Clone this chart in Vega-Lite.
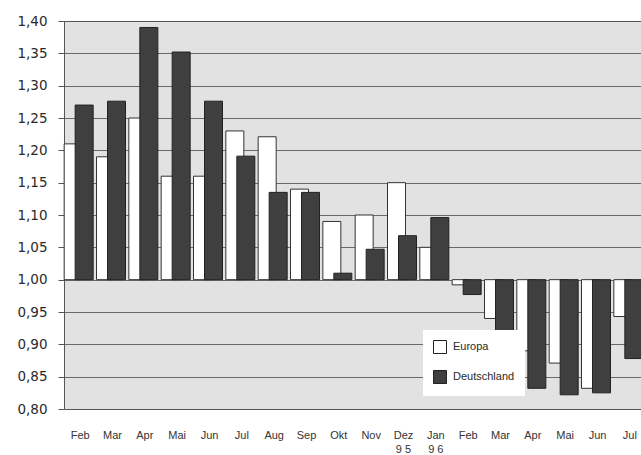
{
  "$schema": "https://vega.github.io/schema/vega-lite/v6.json",
  "autosize": "none",
  "width": 582,
  "height": 388,
  "padding": {"left": 64, "top": 21, "right": 0, "bottom": 46},
  "background": "white",
  "config": {
    "font": "Liberation Sans",
    "view": {"fill": "#e2e2e2", "stroke": "#555555", "strokeWidth": 1}
  },
  "data": {
    "values": [
      {"month": "Feb 95", "series": "Europa", "value": 1.21},
      {"month": "Feb 95", "series": "Deutschland", "value": 1.27},
      {"month": "Mar 95", "series": "Europa", "value": 1.19},
      {"month": "Mar 95", "series": "Deutschland", "value": 1.276},
      {"month": "Apr 95", "series": "Europa", "value": 1.25},
      {"month": "Apr 95", "series": "Deutschland", "value": 1.39},
      {"month": "Mai 95", "series": "Europa", "value": 1.16},
      {"month": "Mai 95", "series": "Deutschland", "value": 1.352},
      {"month": "Jun 95", "series": "Europa", "value": 1.16},
      {"month": "Jun 95", "series": "Deutschland", "value": 1.276},
      {"month": "Jul 95", "series": "Europa", "value": 1.23},
      {"month": "Jul 95", "series": "Deutschland", "value": 1.191},
      {"month": "Aug 95", "series": "Europa", "value": 1.221},
      {"month": "Aug 95", "series": "Deutschland", "value": 1.135},
      {"month": "Sep 95", "series": "Europa", "value": 1.14},
      {"month": "Sep 95", "series": "Deutschland", "value": 1.135},
      {"month": "Okt 95", "series": "Europa", "value": 1.09},
      {"month": "Okt 95", "series": "Deutschland", "value": 1.01},
      {"month": "Nov 95", "series": "Europa", "value": 1.1},
      {"month": "Nov 95", "series": "Deutschland", "value": 1.047},
      {"month": "Dez 95", "series": "Europa", "value": 1.15},
      {"month": "Dez 95", "series": "Deutschland", "value": 1.068},
      {"month": "Jan 96", "series": "Europa", "value": 1.05},
      {"month": "Jan 96", "series": "Deutschland", "value": 1.096},
      {"month": "Feb 96", "series": "Europa", "value": 0.992},
      {"month": "Feb 96", "series": "Deutschland", "value": 0.977},
      {"month": "Mar 96", "series": "Europa", "value": 0.94},
      {"month": "Mar 96", "series": "Deutschland", "value": 0.92},
      {"month": "Apr 96", "series": "Europa", "value": 0.89},
      {"month": "Apr 96", "series": "Deutschland", "value": 0.832},
      {"month": "Mai 96", "series": "Europa", "value": 0.871},
      {"month": "Mai 96", "series": "Deutschland", "value": 0.822},
      {"month": "Jun 96", "series": "Europa", "value": 0.832},
      {"month": "Jun 96", "series": "Deutschland", "value": 0.825},
      {"month": "Jul 96", "series": "Europa", "value": 0.943},
      {"month": "Jul 96", "series": "Deutschland", "value": 0.878}
    ]
  },
  "encoding": {
    "x": {
      "field": "month",
      "type": "ordinal",
      "sort": null,
      "scale": {"paddingInner": 0, "paddingOuter": 0},
      "axis": {
        "title": null,
        "domain": false,
        "ticks": false,
        "grid": false,
        "labelAngle": 0,
        "labelPadding": 20,
        "labelFontSize": 11,
        "labelColor": "#333333",
        "labelLineHeight": 14,
        "labelExpr": "datum.value == 'Dez 95' ? ['Dez', '9 5'] : datum.value == 'Jan 96' ? ['Jan', '9 6'] : slice(datum.value, 0, 3)"
      }
    },
    "y": {
      "field": "value",
      "type": "quantitative",
      "scale": {"domain": [0.8, 1.4], "nice": false, "zero": false},
      "axis": {
        "title": null,
        "values": [0.8, 0.85, 0.9, 0.95, 1.0, 1.05, 1.1, 1.15, 1.2, 1.25, 1.3, 1.35, 1.4],
        "labelExpr": "replace(format(datum.value, '.2f'), '.', ',')",
        "labelFont": "DejaVu Sans",
        "labelFontSize": 13.5,
        "labelColor": "#2a2a2a",
        "labelPadding": 11,
        "tickSize": 6,
        "tickColor": "#555555",
        "domain": false,
        "grid": true,
        "gridColor": "#555555",
        "gridWidth": 1,
        "gridOpacity": 0.85
      }
    },
    "y2": {"datum": 1},
    "color": {
      "field": "series",
      "type": "nominal",
      "scale": {"domain": ["Europa", "Deutschland"], "range": ["#ffffff", "#3f3f3f"]},
      "legend": {
        "title": null,
        "orient": "none",
        "legendX": 359,
        "legendY": 309,
        "zindex": 1,
        "fillColor": "#ffffff",
        "padding": 10,
        "symbolType": "square",
        "symbolSize": 169,
        "symbolStrokeColor": "#222222",
        "symbolStrokeWidth": 1,
        "labelFontSize": 11,
        "labelColor": "#2a2a2a",
        "rowPadding": 12,
        "labelOffset": 6
      }
    }
  },
  "layer": [
    {
      "transform": [{"filter": "datum.series == 'Europa'"}],
      "mark": {"type": "bar", "width": 18, "xOffset": -7, "stroke": "#333333", "strokeWidth": 1}
    },
    {
      "transform": [{"filter": "datum.series == 'Deutschland'"}],
      "mark": {"type": "bar", "width": 18, "xOffset": 4, "stroke": "#222222", "strokeWidth": 1}
    }
  ]
}
